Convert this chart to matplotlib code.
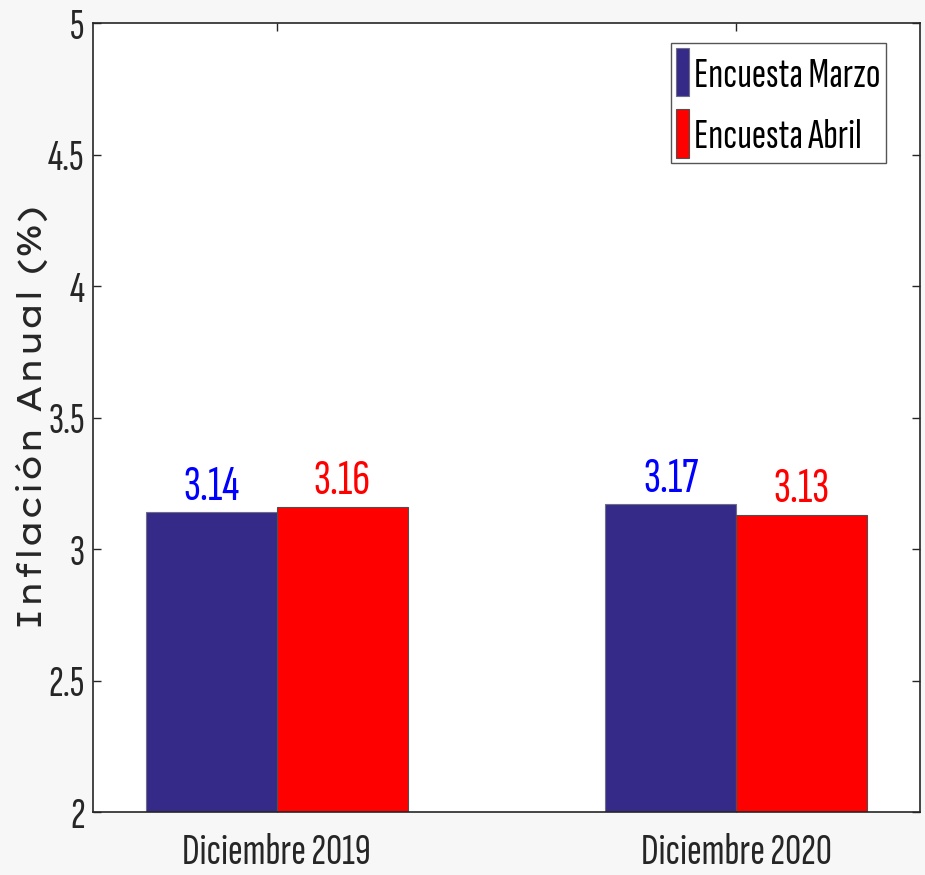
import matplotlib
matplotlib.use("Agg")
import matplotlib.pyplot as plt
import numpy as np

categories = ["Diciembre 2019", "Diciembre 2020"]
series_names = ["Encuesta Marzo", "Encuesta Abril"]
marzo = [3.14, 3.17]
abril = [3.16, 3.13]
yticks = [2, 2.5, 3, 3.5, 4, 4.5, 5]
ytick_labels = ["2", "2.5", "3", "3.5", "4", "4.5", "5"]

NAVY = "#352a87"
RED = "#ff0000"
TXT = "#262626"
NARROW = ["Sofia Sans Extra Condensed", "Pathway Gothic One", "DejaVu Sans"]
WIDE = ["Lexend Giga", "DejaVu Sans"]

fig = plt.figure(figsize=(9.25, 8.75), dpi=100, facecolor="#f7f7f7")
ax = fig.add_axes([93/925, 1-812/875, (920-93)/925, (812-23)/875])
ax.set_facecolor("white")

x = np.arange(1, len(categories) + 1)
w = 0.285
ax.bar(x - w/2, np.array(marzo) - 2, w, bottom=2, color=NAVY,
       edgecolor="#6e6e8a", linewidth=0.8, label=series_names[0], zorder=2)
ax.bar(x + w/2, np.array(abril) - 2, w, bottom=2, color=RED,
       edgecolor="#505050", linewidth=0.8, label=series_names[1], zorder=2)

for xi, v in zip(x - w/2, marzo):
    ax.annotate(f"{v:.2f}", (xi, v), xytext=(0, 9), textcoords="offset points",
                ha="center", va="baseline", color="#0000ff", fontsize=36,
                family=NARROW)
for xi, v in zip(x + w/2, abril):
    ax.annotate(f"{v:.2f}", (xi, v), xytext=(0, 9), textcoords="offset points",
                ha="center", va="baseline", color=RED, fontsize=36,
                family=NARROW)

ax.set_xlim(0.6, 2.4)
ax.set_ylim(2, 5)
ax.set_xticks(x)
ax.set_xticklabels(categories, family=NARROW, fontsize=32, color=TXT)
ax.set_yticks(yticks)
ax.set_yticklabels(ytick_labels, family=NARROW, fontsize=32, color=TXT)
ax.tick_params(direction="in", length=6, width=1, color=TXT,
               top=True, right=True)
ax.tick_params(axis="y", pad=6)
ax.tick_params(axis="x", pad=15)
for s in ax.spines.values():
    s.set_color(TXT)
    s.set_linewidth(1.2)
    s.set_zorder(3)

ax.set_ylabel("Inflación Anual (%)", family=WIDE, fontsize=24, color=TXT)
ax.yaxis.set_label_coords(-0.054, 0.5)

leg = ax.legend(loc="upper right", bbox_to_anchor=((886-93)/827, 1-(43-23)/789),
                borderaxespad=0, prop={"family": NARROW, "size": 31},
                handlelength=0.3, handleheight=1.35, handletextpad=0.12,
                labelspacing=0.3, borderpad=0.12, fancybox=False,
                framealpha=1, edgecolor="#555555")
leg.get_frame().set_linewidth(1.0)
for t in leg.get_texts():
    t.set_color("black")

fig.savefig("out.png", dpi=100, facecolor=fig.get_facecolor())
